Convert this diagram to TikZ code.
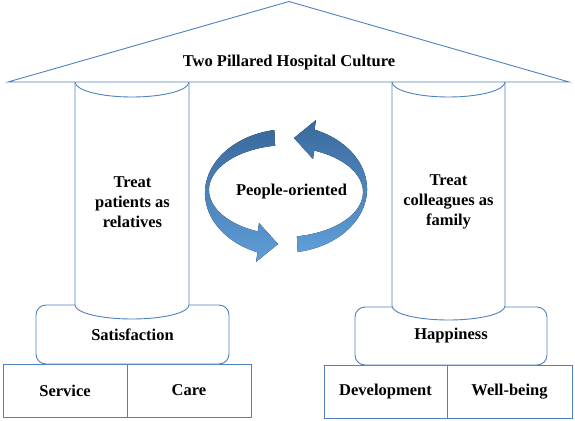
\documentclass[tikz,border=0pt]{standalone}
\usepackage{fontspec}
\setmainfont{Liberation Serif}
\definecolor{edge}{RGB}{79,129,189}
\definecolor{arrlight}{RGB}{95,158,215}
\definecolor{arrdark}{RGB}{58,106,158}
\tikzset{
  line/.style={draw=edge, line width=0.9pt},
  lbl/.style={font=\fontsize{16.5}{20}\selectfont\bfseries, align=center, text=black, inner sep=0pt},
  roundbox/.style={line, fill=white, rounded corners=10pt, inner sep=0pt},
  basebox/.style={line, fill=white, inner sep=0pt, minimum height=53pt},
  arrowfill/.style={top color=arrdark, bottom color=arrlight, draw=none},
}
\begin{document}
\begin{tikzpicture}[x=1pt,y=-1pt]
\useasboundingbox (0,0) rectangle (575,420);

% bottom boxes
\node[basebox, minimum width=124pt, lbl] (service) at (65,390.5) {Service};
\node[basebox, minimum width=124pt, lbl] (care) at (189,390.5) {Care};
\node[basebox, minimum width=123pt, lbl] (dev) at (385.5,391.5) {Development};
\node[basebox, minimum width=125pt, lbl] (well) at (509.5,391.5) {Well-being};

% middle rounded boxes
\node[roundbox, minimum width=193pt, minimum height=59pt, lbl] (sat) at (132.5,334.5) {Satisfaction};
\node[roundbox, minimum width=192pt, minimum height=58pt, lbl] (hap) at (451,336) {Happiness};

% pillars
\draw[line, fill=white] (75,82) -- (75,305) arc[start angle=180, end angle=0, x radius=57, y radius=14] -- (189,82);
\draw[line] (75,82) arc[start angle=180, end angle=0, x radius=57, y radius=15];
\draw[line, fill=white] (392,82) -- (392,306) arc[start angle=180, end angle=0, x radius=56.5, y radius=14] -- (505,82);
\draw[line] (392,82) arc[start angle=180, end angle=0, x radius=56.5, y radius=15];

% roof
\draw[line, fill=white, line join=miter] (8,82) -- (289,1.5) -- (569,82) -- cycle;
\node[lbl] (title) at (289,63) {Two Pillared Hospital Culture};

% pillar texts
\node[lbl] (left) at (132.5,202) {Treat\\patients as\\relatives};
\node[lbl] (right) at (448.5,202) {Treat\\colleagues as\\family};

% circular arrows
\fill[arrowfill] (274.4,130) arc[start angle=260, end angle=112, x radius=84, y radius=64]
  -- (256,262) -- (278,244) -- (259,223) -- (257.7,231.4)
  arc[start angle=113, end angle=260, x radius=80, y radius=45] -- cycle;
\begin{scope}[rotate around={180:(286,191)}]
\fill[arrowfill] (274.4,130) arc[start angle=260, end angle=112, x radius=84, y radius=64]
  -- (256,262) -- (278,244) -- (259,223) -- (257.7,231.4)
  arc[start angle=113, end angle=260, x radius=80, y radius=45] -- cycle;
\end{scope}
\node[lbl] (people) at (291.5,192) {People-oriented};
\end{tikzpicture}
\end{document}
